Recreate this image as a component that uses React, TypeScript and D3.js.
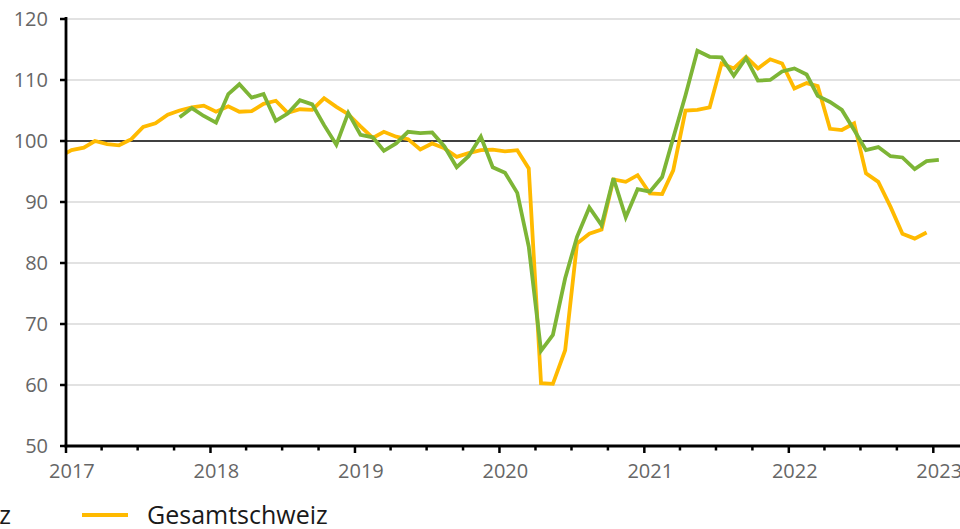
import * as d3 from 'd3';
import * as React from 'react';

// monthly index values, first value = month given in *Start (value plotted mid-month)
const gesamtStart = new Date(2016, 11, 15);
const gesamtschweiz = [
  97.4, 98.5, 98.9, 100.0, 99.5, 99.3, 100.3, 102.3, 102.9, 104.3, 105.0, 105.5, 105.8,
  104.8, 105.7, 104.8, 104.9, 106.1, 106.6, 104.6, 105.2, 105.1, 107.0, 105.6, 104.4,
  102.4, 100.5, 101.5, 100.7, 100.3, 98.6, 99.6, 98.8, 97.4, 98.0, 98.5, 98.6,
  98.3, 98.5, 95.5, 60.3, 60.2, 65.7, 83.2, 84.8, 85.5, 93.7, 93.3, 94.4,
  91.4, 91.3, 95.2, 105.0, 105.1, 105.5, 112.7, 111.9, 113.8, 111.9, 113.4, 112.7,
  108.6, 109.5, 109.0, 102.0, 101.8, 102.9, 94.7, 93.3, 89.2, 84.8, 84.0, 85.0,
];

const regionStart = new Date(2017, 9, 15);
const region = [
  103.9, 105.4, 104.1,
  103.0, 107.7, 109.3, 107.1, 107.7, 103.3, 104.5, 106.7, 106.0, 102.6, 99.4, 104.6,
  101.0, 100.6, 98.4, 99.6, 101.5, 101.3, 101.4, 99.1, 95.7, 97.5, 100.7, 95.7,
  94.8, 91.5, 82.7, 65.6, 68.2, 77.5, 84.3, 89.1, 86.2, 93.9, 87.5, 92.1,
  91.7, 94.1, 100.5, 107.5, 114.8, 113.8, 113.7, 110.7, 113.6, 109.9, 110.0, 111.4,
  111.9, 110.9, 107.4, 106.4, 105.1, 101.8, 98.5, 99.0, 97.5, 97.3, 95.4, 96.7,
  96.9,
];

const yTicks = [50, 60, 70, 80, 90, 100, 110, 120];
const years = [2017, 2018, 2019, 2020, 2021, 2022, 2023];
const legendLabels = ['Zentralschweiz', 'Gesamtschweiz'];

const YELLOW = '#FFBA00';
const GREEN = '#7DB536';
const FONT = '"Open Sans", "Noto Sans", sans-serif';

const toSeries = (start: Date, values: number[]) =>
  values.map((v, i) => ({ date: new Date(start.getFullYear(), start.getMonth() + i, 15), value: v }));

export default function App() {
  const width = 960;
  const height = 529;
  const left = 66;
  const right = 960;

  const x = d3
    .scaleTime()
    .domain([new Date(2017, 0, 1), new Date(2023, 0, 1)])
    .range([left, 933.3]);
  const y = d3.scaleLinear().domain([50, 120]).range([446, 19]);

  const line = d3
    .line<{ date: Date; value: number }>()
    .x((d) => x(d.date))
    .y((d) => y(d.value));

  const yellowPath = line(toSeries(gesamtStart, gesamtschweiz)) ?? '';
  const greenPath = line(toSeries(regionStart, region)) ?? '';

  const quarterTicks = d3.timeMonth
    .every(3)!
    .range(new Date(2017, 0, 1), new Date(2023, 6, 1))
    .filter((d) => x(d) <= right);

  return (
    <div style={{ position: 'absolute', left: 0, top: 0 }}>
      <svg width={width} height={height} style={{ display: 'block', fontFamily: FONT }}>
        <defs>
          <clipPath id="plot">
            <rect x={left} y={0} width={right - left} height={height} />
          </clipPath>
        </defs>

        {yTicks
          .filter((t) => t !== 50 && t !== 100)
          .map((t) => (
            <line key={t} x1={left} x2={right} y1={y(t)} y2={y(t)} stroke="#d9d9d9" strokeWidth={1.4} />
          ))}
        <line x1={left} x2={right} y1={y(100)} y2={y(100)} stroke="#000" strokeWidth={1.6} />

        {yTicks.map((t) => (
          <g key={t}>
            <line x1={left - 6} x2={left} y1={y(t)} y2={y(t)} stroke="#000" strokeWidth={2.5} />
            <text x={48} y={y(t)} dy="0.35em" textAnchor="end" fontSize={20} fill="#666">
              {t}
            </text>
          </g>
        ))}

        {quarterTicks.map((d, i) => {
          const major = d.getMonth() === 0;
          return (
            <line
              key={i}
              x1={x(d)}
              x2={x(d)}
              y1={y(50)}
              y2={y(50) + (major ? 7 : 4.5)}
              stroke="#000"
              strokeWidth={2.5}
            />
          );
        })}
        {years.map((yr) => (
          <text key={yr} x={x(new Date(yr, 0, 16))} y={478} textAnchor="middle" fontSize={20} fill="#666">
            {yr}
          </text>
        ))}

        <g clipPath="url(#plot)" fill="none" strokeWidth={3.8} strokeLinejoin="miter" strokeMiterlimit={3}>
          <path d={yellowPath} stroke={YELLOW} />
          <path d={greenPath} stroke={GREEN} />
        </g>

        <line x1={left} x2={left} y1={17} y2={y(50) + 1.25} stroke="#000" strokeWidth={2.8} />
        <line x1={left - 1.4} x2={right} y1={y(50)} y2={y(50)} stroke="#000" strokeWidth={2.8} />

        {/* legend */}
        <line x1={-36} x2={-2} y1={515} y2={515} stroke={GREEN} strokeWidth={4} />
        <text x={11} y={524} textAnchor="end" fontSize={25} fill="#1a1a1a">
          {legendLabels[0]}
        </text>
        <line x1={82} x2={128} y1={515} y2={515} stroke={YELLOW} strokeWidth={4} />
        <text x={147} y={524} fontSize={25} fill="#1a1a1a">
          {legendLabels[1]}
        </text>
      </svg>
    </div>
  );
}
